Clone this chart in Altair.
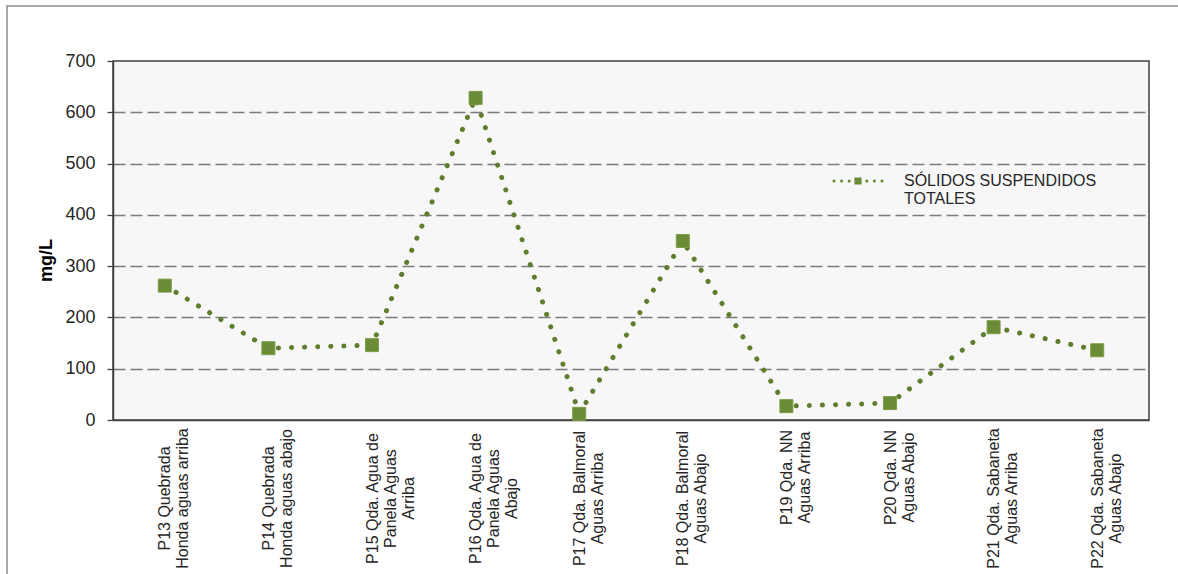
import altair as alt
import pandas as pd

# Monitoring stations (line breaks marked with "|") and total suspended solids, mg/L
stations = [
    "P13 Quebrada|Honda aguas arriba",
    "P14 Quebrada|Honda aguas abajo",
    "P15 Qda. Agua de|Panela Aguas|Arriba",
    "P16 Qda. Agua de|Panela Aguas|Abajo",
    "P17 Qda. Balmoral|Aguas Arriba",
    "P18 Qda. Balmoral|Aguas Abajo",
    "P19 Qda. NN|Aguas Arriba",
    "P20 Qda. NN|Aguas Abajo",
    "P21 Qda. Sabaneta|Aguas Arriba",
    "P22 Qda. Sabaneta|Aguas Abajo",
]
sst = [262, 140, 146, 628, 12, 349, 27, 33, 181, 136]
series_name = "SÓLIDOS SUSPENDIDOS|TOTALES"
y_ticks = [0, 100, 200, 300, 400, 500, 600, 700]

df = pd.DataFrame({"estacion": stations, "sst": sst, "serie": series_name})

W, H = 1036, 359
FONT = "Liberation Sans"
OLIVE = "#6b8c36"
LINE_OLIVE = "#5e7d2d"

# legend glyph: dotted line with a square marker in the middle
def _dot(cx, r=0.4):
    return f"M{cx - r},0A{r},{r} 0 1,0 {cx + r},0A{r},{r} 0 1,0 {cx - r},0Z"

legend_path = "M-0.9,-0.9L0.9,-0.9L0.9,0.9L-0.9,0.9Z" + "".join(
    _dot(c) for c in (-6.0, -4.1, -2.2, 2.2, 4.1, 6.0)
)

x_enc = alt.X(
    "estacion:N",
    sort=stations,
    scale=alt.Scale(type="point", padding=0.5),
    axis=alt.Axis(
        title=None,
        labelAngle=270,
        labelAlign="center",
        labelBaseline="middle",
        labelExpr="split(datum.label, '|')",
        labelFont=FONT,
        labelFontSize=16,
        labelLineHeight=18,
        labelColor="#262626",
        labelPadding={
            "condition": {"test": "indexof(datum.value, ' NN') >= 0", "value": 57},
            "value": 78,
        },
        labelOverlap=False,
        labelLimit=400,
        ticks=False,
        tickSize=0,
        domainColor="#404040",
        domainWidth=1.5,
        grid=False,
    ),
)

y_enc = alt.Y(
    "sst:Q",
    scale=alt.Scale(domain=[0, 700], nice=False, zero=True),
    axis=alt.Axis(
        values=y_ticks,
        title="mg/L",
        titleFont=FONT,
        titleFontSize=18,
        titleFontWeight="bold",
        titleColor="#000000",
        titleY=199,
        titlePadding=9,
        labelFont=FONT,
        labelFontSize=18,
        labelColor="#262626",
        labelPadding=12,
        tickSize=6,
        tickColor="#404040",
        tickWidth=1.3,
        domainColor="#404040",
        domainWidth=1.5,
        grid=True,
        gridColor="#7a7a7a",
        gridDash=[12, 5],
        gridWidth=1.4,
        gridOpacity={
            "condition": {"test": "datum.value == 0 || datum.value == 700", "value": 0},
            "value": 1,
        },
    ),
)

frame = (
    alt.Chart(alt.Data(values=[{}]))
    .mark_rect(fill="transparent", stroke="#8c8c8c", strokeWidth=1.5)
    .encode(
        x=alt.value(-106),
        y=alt.value(-55),
        x2=alt.value(1080),
        y2=alt.value(530),
    )
)

line = (
    alt.Chart(df)
    .mark_line(
        color=LINE_OLIVE,
        strokeWidth=5,
        strokeDash=[0.1, 13],
        strokeCap="round",
    )
    .encode(x=x_enc, y=y_enc)
)

points = (
    alt.Chart(df)
    .mark_square(size=169, filled=True, opacity=1, stroke="#7d9d46", strokeWidth=1)
    .encode(
        x=alt.X("estacion:N", sort=stations),
        y="sst:Q",
        color=alt.Color(
            "serie:N",
            scale=alt.Scale(range=[OLIVE]),
            legend=alt.Legend(
                title=None,
                orient="none",
                legendX=737,
                legendY=112,
                symbolType=legend_path,
                symbolSize=64,
                symbolStrokeWidth=0,
                symbolOpacity=1,
                labelOffset=38,
                labelFont=FONT,
                labelFontSize=16,
                labelColor="#262626",
                labelExpr="split(datum.label, '|')",
                labelLimit=400,
            ),
        ),
    )
)

chart = (
    alt.layer(frame, line, points)
    .properties(
        width=W,
        height=H,
        autosize=alt.AutoSizeParams(type="none"),
        padding={"left": 113, "top": 61, "right": 29, "bottom": 154},
        background="#ffffff",
    )
    .configure_view(stroke="#404040", strokeWidth=1.5, fill="#f7f7f7")
)

chart.save("out.html", embed_options={"renderer": "svg", "actions": False})
